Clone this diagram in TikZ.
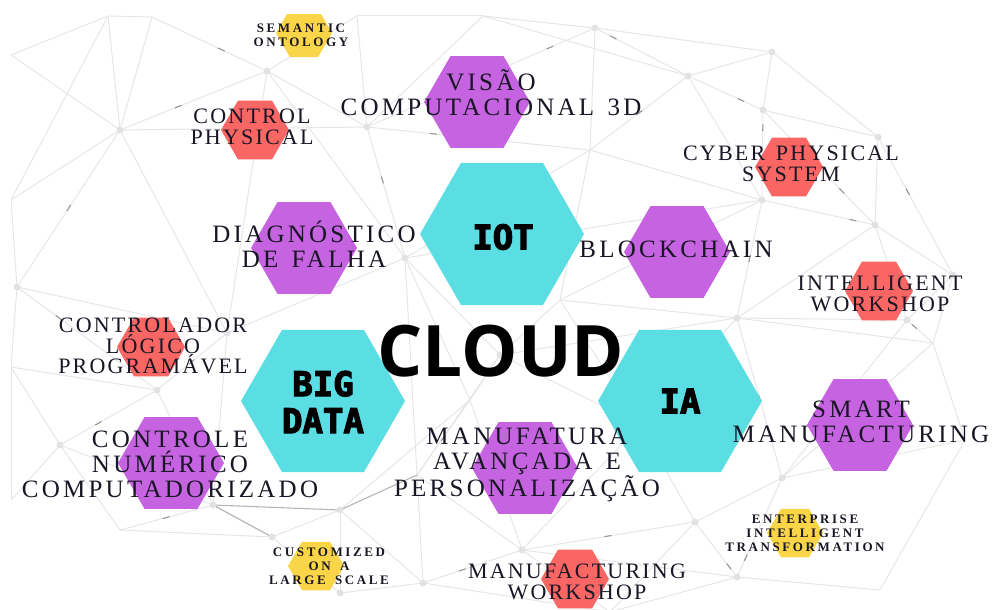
\documentclass[tikz,border=0pt]{standalone}
\usepackage{fontspec}
\setmainfont{Liberation Serif}
\newfontfamily\lblfont{Liberation Serif}[LetterSpace=13,WordSpace=1.4]
\newfontfamily\lblfontS{Liberation Serif}[LetterSpace=10,WordSpace=1.4]
\newfontfamily\tinyfont{Liberation Serif}[LetterSpace=20,WordSpace=1.6]
\newfontfamily\hexfont{DejaVu Sans Mono}[BoldFeatures={FakeBold=3.5}]
\newfontfamily\cloudfont{Open Sans}
\usetikzlibrary{shapes.geometric,decorations.markings}

\definecolor{cyanhex}{RGB}{90,221,227}
\definecolor{purplehex}{RGB}{197,99,224}
\definecolor{redhex}{RGB}{250,102,100}
\definecolor{yellowhex}{RGB}{250,213,72}
\definecolor{ink}{RGB}{24,22,36}
\definecolor{meshgray}{RGB}{230,230,230}
\definecolor{markgray}{RGB}{150,150,150}
\definecolor{hubgray}{RGB}{226,226,226}

\tikzset{
  meshline/.style={draw=meshgray, line width=1pt},
  meshdark/.style={draw=markgray!70, line width=1.1pt},
  meshmark/.style={postaction={decorate, decoration={markings,
      mark=at position #1 with {\draw[draw=markgray, line width=1.1pt] (-4,0) -- (3,0);}}}},
  hub/.style={circle, fill=hubgray, inner sep=0pt, minimum size=7pt},
  hexbase/.style={regular polygon, regular polygon sides=6, inner sep=0pt, draw=none},
  hexbig/.style={hexbase, fill=cyanhex, minimum size=164pt},
  hexmid/.style={hexbase, fill=purplehex, minimum size=106pt},
  hexsmall/.style={hexbase, fill=redhex, minimum size=68pt},
  hextiny/.style={hexbase, fill=yellowhex, minimum size=56pt},
  lbl/.style={align=center, inner sep=0pt, text=ink, font=\lblfont\fontsize{25}{25}\selectfont},
  lbls/.style={align=center, inner sep=0pt, text=ink, font=\lblfontS\fontsize{22}{20.5}\selectfont},
  lblt/.style={align=center, inner sep=0pt, text=ink, font=\tinyfont\bfseries\fontsize{13}{13.8}\selectfont},
  hexlbl/.style={align=center, inner sep=0pt, text=black, font=\hexfont\bfseries\fontsize{34}{37}\selectfont},
}

\begin{document}
\begin{tikzpicture}[x=1pt, y=-1pt]
\useasboundingbox (0,0) rectangle (993,610);

\begin{scope}
\clip (11,15) rectangle (993,610);

% mesh vertices
\coordinate (m1) at (11,55);
\coordinate (m2) at (108,16);
\coordinate (m3) at (152,17);
\coordinate (m4) at (357,16);
\coordinate (m5) at (483,16);
\coordinate (m6) at (267,71);
\coordinate (m7) at (120,130);
\coordinate (m8) at (367,127);
\coordinate (m9) at (595,28);
\coordinate (m10) at (688,76);
\coordinate (m11) at (772,52);
\coordinate (m12) at (763,110);
\coordinate (m13) at (878,137);
\coordinate (m14) at (762,200);
\coordinate (m15) at (875,225);
\coordinate (m16) at (953,275);
\coordinate (m17) at (17,287);
\coordinate (m18) at (405,258);
\coordinate (m19) at (11,200);
\coordinate (m20) at (227,333);
\coordinate (m21) at (157,390);
\coordinate (m22) at (60,445);
\coordinate (m23) at (11,367);
\coordinate (m24) at (213,505);
\coordinate (m25) at (340,510);
\coordinate (m26) at (120,530);
\coordinate (m27) at (272,537);
\coordinate (m28) at (417,475);
\coordinate (m29) at (423,583);
\coordinate (m30) at (340,593);
\coordinate (m31) at (737,318);
\coordinate (m32) at (907,320);
\coordinate (m33) at (782,478);
\coordinate (m34) at (695,522);
\coordinate (m35) at (522,550);
\coordinate (m36) at (737,577);
\coordinate (m37) at (933,343);
\coordinate (m38) at (500,355);
\coordinate (m39) at (965,440);
\coordinate (m41) at (610,612);
\coordinate (m42) at (880,590);
\coordinate (m43) at (640,425);
\coordinate (m44) at (470,400);
\coordinate (m45) at (590,150);
\coordinate (m46) at (560,300);
\coordinate (m48) at (11,500);

% mesh edges
\foreach \a/\b in {1/2,1/7,2/7,3/6,3/7,2/3,4/6,4/8,4/5,5/8,5/9,5/10,6/7,6/8,6/18,
  7/19,7/17,7/20,7/8,8/9,8/18,8/45,9/10,9/11,9/45,10/11,10/12,10/14,10/45,
  11/12,11/13,12/13,12/14,12/15,13/15,13/16,14/15,14/31,14/18,14/45,15/16,15/32,15/31,
  16/32,16/37,17/19,17/23,17/20,17/21,18/20,18/38,18/45,18/44,18/28,
  20/21,20/24,21/22,21/24,21/23,22/23,22/26,22/24,22/48,23/48,
  24/26,24/27,25/27,25/29,25/30,25/44,26/27,27/30,
  28/29,28/35,28/44,28/38,29/30,29/35,29/41,31/32,31/33,31/43,31/38,31/46,31/37,
  32/37,32/33,33/34,33/37,33/39,33/36,34/35,34/36,34/43,34/41,35/36,35/41,35/43,35/44,
  36/41,36/42,37/39,38/43,38/44,38/46,39/42,43/46,45/46,46/14,20/6,19/2}
  \draw[meshline] (m\a) -- (m\b);

% darker segments
\draw[meshdark] (m24) -- (m25);
\draw[meshdark] (m25) -- (m28);
\draw[meshdark] (m24) -- (m27);

% arrow marks along some edges
\foreach \a/\b/\p in {9/10/0.2,9/8/0.2,12/14/0.2,12/10/0.3,15/14/0.2,15/12/0.3,
  32/37/0.3,32/31/0.15,36/34/0.2,36/33/0.2,7/6/0.4,7/17/0.5,6/3/0.4,8/45/0.3,
  18/8/0.6,21/20/0.5,22/21/0.4,28/44/0.5,35/34/0.5,14/31/0.5,10/45/0.5,13/16/0.4,
  17/21/0.3,26/24/0.5,33/31/0.5,29/35/0.4}
  \path (m\a) -- (m\b) [meshmark=\p];

% hub dots
\foreach \h in {6,7,8,9,10,11,12,13,14,15,16,17,18,20,21,22,24,25,27,29,30,31,32,33,34,35,36,38}
  \node[hub] (d\h) at (m\h) {};

% hexagons
\node[hexbig] (hIOT) at (502,234) {};
\node[hexbig] (hBIG) at (323,401) {};
\node[hexbig] (hIA)  at (680,401) {};

\node[hexmid] (hVIS) at (477,102) {};
\node[hexmid] (hDIA) at (304,248) {};
\node[hexmid] (hBLK) at (677,252) {};
\node[hexmid] (hCNC) at (171,463) {};
\node[hexmid] (hMAN) at (525,468) {};
\node[hexmid] (hSMA) at (860,425) {};

\node[hexsmall] (hCP)  at (255,130) {};
\node[hexsmall] (hCPS) at (789,167) {};
\node[hexsmall] (hIW)  at (879,291) {};
\node[hexsmall] (hCLP) at (151,347) {};
\node[hexsmall] (hMW)  at (575,579) {};

\node[hextiny] (hSO)  at (304,33) {};
\node[hextiny] (hCUS) at (316,566) {};
\node[hextiny] (hENT) at (795,533) {};
\end{scope}

% labels
\node[lblt] (tSO) at (301,35) {SEMANTIC\\ONTOLOGY};
\node[lbls] (tCP) at (252,127) {CONTROL\\PHYSICAL};
\node[lbl]  (tVIS) at (491,93) {VISÃO\\COMPUTACIONAL 3D};
\node[lbl]  (tDIA) at (314,244) {DIAGNÓSTICO\\DE FALHA};
\node[lbl]  (tBLK) at (676,249) {BLOCKCHAIN};
\node[lbls] (tCPS) at (791,164) {CYBER PHYSICAL\\SYSTEM};
\node[lbls] (tIW) at (880,294) {INTELLIGENT\\WORKSHOP};
\node[lbls] (tCLP) at (153,346) {CONTROLADOR\\LÓGICO\\PROGRAMÁVEL};
\node[lbl]  (tCNC) at (170,464) {CONTROLE\\NUMÉRICO\\COMPUTADORIZADO};
\node[lbl]  (tMAN) at (527,465) {MANUFATURA\\AVANÇADA E\\PERSONALIZAÇÃO};
\node[lbl]  (tSMA) at (861,422) {SMART\\MANUFACTURING};
\node[lblt] (tENT) at (805,533) {ENTERPRISE\\INTELLIGENT\\TRANSFORMATION};
\node[lblt] (tCUS) at (329,566) {CUSTOMIZED\\ON A\\LARGE SCALE};
\node[lbls] (tMW) at (577,582) {MANUFACTURING\\WORKSHOP};

\node[hexlbl] (tIOT) at (503,237) {IOT};
\node[hexlbl] (tBIG) at (323,402) {BIG\\DATA};
\node[hexlbl] (tIA)  at (680,401) {IA};
\node[inner sep=0pt, text=black, font=\cloudfont\bfseries\fontsize{71}{71}\selectfont] (tCLOUD) at (501,351) {CLOUD};
\end{tikzpicture}
\end{document}
